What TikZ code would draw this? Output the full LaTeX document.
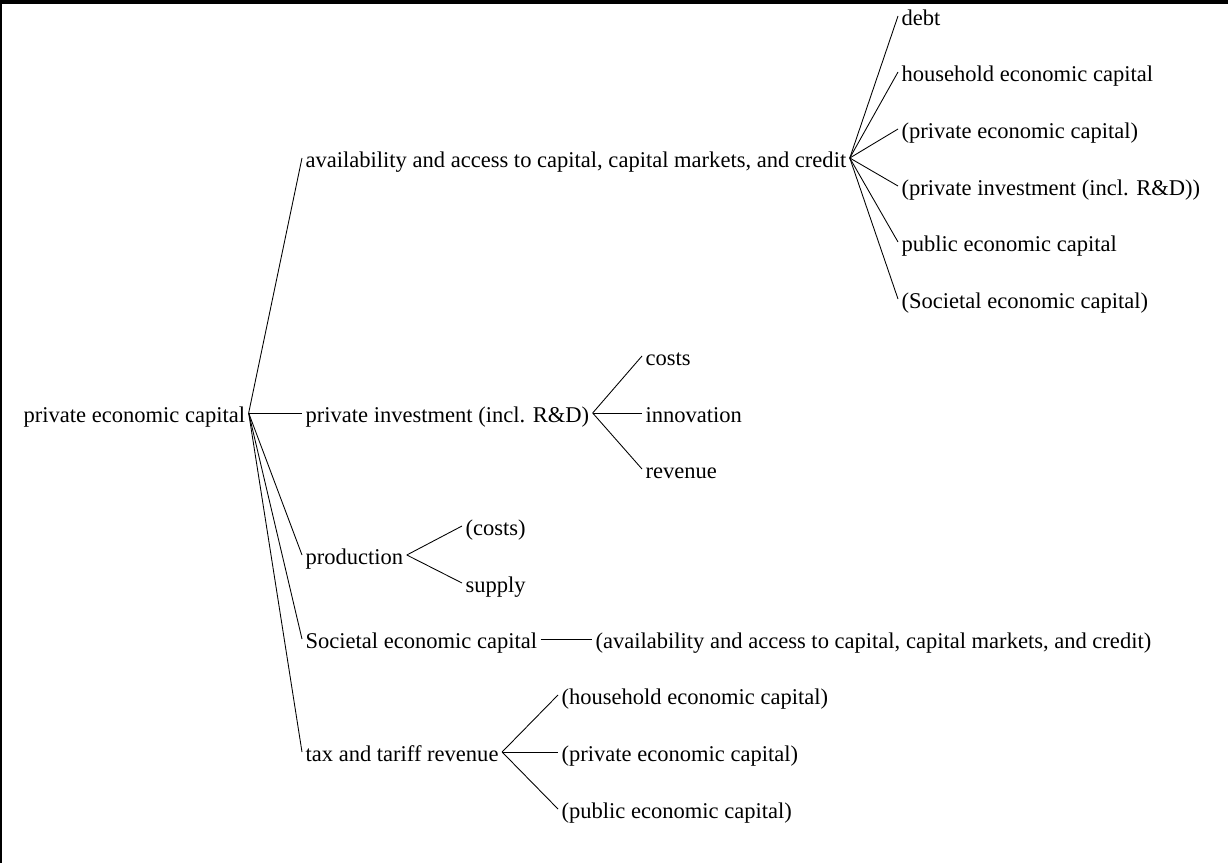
\documentclass[tikz,border=0pt]{standalone}
\usepackage{fontspec}
\setmainfont{Liberation Serif}
\tikzset{
  lbl/.style={anchor=west,inner sep=2.5pt,text height=16pt,text depth=2.4pt,
    font=\fontsize{16.9}{20}\selectfont},
  twig/.style={black,line width=0.65pt}
}
\begin{document}
\begin{tikzpicture}[x=0.75pt,y=-0.75pt]
    \useasboundingbox (0,0) rectangle (1228,863);
    \fill [black] (0,0) rectangle (1228,4);
    \fill [black] (0,0) rectangle (2,863);

    \node [lbl] (root) at (20,413) {private economic capital};

    \node [lbl] (avail) at (302,158) {availability and access to capital, capital markets, and credit};
    \node [lbl] (invest) at (302,413) {private investment (incl. R\&D)};
    \node [lbl] (prod) at (302,555) {production};
    \node [lbl] (soc) at (302,639) {Societal economic capital};
    \node [lbl] (tax) at (302,752) {tax and tariff revenue};

    \node [lbl] (debt) at (898,16) {debt};
    \node [lbl] (hhcap) at (898,72) {household economic capital};
    \node [lbl] (privcap) at (898,129) {(private economic capital)};
    \node [lbl] (privinv) at (898,186) {(private investment (incl. R\&D))};
    \node [lbl] (pubcap) at (898,242) {public economic capital};
    \node [lbl] (soccap) at (898,299) {(Societal economic capital)};

    \node [lbl] (costs) at (642,356) {costs};
    \node [lbl] (innov) at (642,413) {innovation};
    \node [lbl] (rev) at (642,469) {revenue};

    \node [lbl] (pcosts) at (462,526) {(costs)};
    \node [lbl] (supply) at (462,583) {supply};

    \node [lbl] (socavail) at (592,639) {(availability and access to capital, capital markets, and credit)};

    \node [lbl] (taxhh) at (558,695) {(household economic capital)};
    \node [lbl] (taxpriv) at (558,752) {(private economic capital)};
    \node [lbl] (taxpub) at (558,809) {(public economic capital)};

    % connectors
    \foreach \c in {avail,invest,prod,soc,tax}
        \draw [twig] (root.east)--(\c.west);
    \foreach \c in {debt,hhcap,privcap,privinv,pubcap,soccap}
        \draw [twig] (avail.east)--(\c.west);
    \foreach \c in {costs,innov,rev}
        \draw [twig] (invest.east)--(\c.west);
    \foreach \c in {pcosts,supply}
        \draw [twig] (prod.east)--(\c.west);
    \draw [twig] (soc.east)--(socavail.west);
    \foreach \c in {taxhh,taxpriv,taxpub}
        \draw [twig] (tax.east)--(\c.west);
\end{tikzpicture}
\end{document}
